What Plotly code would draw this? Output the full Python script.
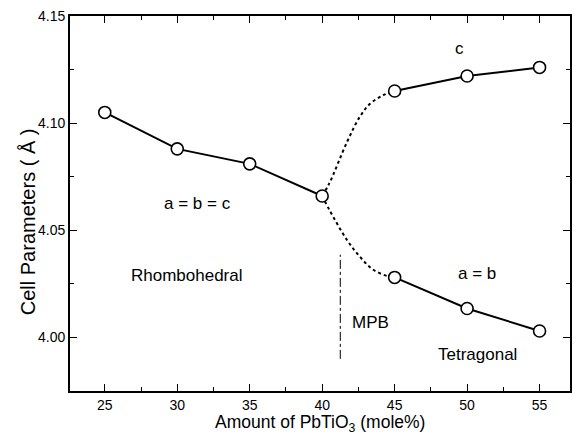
import plotly.graph_objects as go

# Data
x_rhombo = [25, 30, 35, 40]
y_rhombo = [4.105, 4.088, 4.081, 4.066]

x_tet = [45, 50, 55]
c_tet = [4.115, 4.122, 4.126]
a_tet = [4.028, 4.0135, 4.003]

# guide points of the dotted transition curves across the MPB
x_trans_c = [40, 40.5, 41.7, 42.6, 43.3, 44.2, 45]
y_trans_c = [4.066, 4.072, 4.091, 4.103, 4.109, 4.113, 4.115]
x_trans_a = [40, 40.5, 41.7, 42.6, 43.5, 44.6, 45]
y_trans_a = [4.066, 4.0595, 4.0456, 4.0377, 4.0317, 4.0284, 4.028]

mpb_x = [41.25, 41.25]
mpb_y = [3.990, 4.0386]

x_ticks = [25, 30, 35, 40, 45, 50, 55]
y_ticks = [4.00, 4.05, 4.10, 4.15]

labels = [
    ("c", 49.45, 4.135),
    ("a = b = c", 31.4, 4.0623),
    ("Rhombohedral", 30.7, 4.0289),
    ("MPB", 43.3, 4.0071),
    ("a = b", 50.7, 4.0298),
    ("Tetragonal", 50.7, 3.9922),
]

FONT = "Liberation Sans, Arial, sans-serif"

fig = go.Figure()

# dotted transitions
for xs, ys in [(x_trans_c, y_trans_c), (x_trans_a, y_trans_a)]:
    fig.add_trace(go.Scatter(x=xs, y=ys, mode="lines",
                             line=dict(color="black", width=2, dash="dot", shape="spline", smoothing=1.0),
                             hoverinfo="skip", showlegend=False))

# MPB boundary
fig.add_trace(go.Scatter(x=mpb_x, y=mpb_y, mode="lines",
                         line=dict(color="black", width=1, dash="dashdot"),
                         hoverinfo="skip", showlegend=False))

marker = dict(symbol="circle", size=12, color="white", line=dict(color="black", width=1.6))
for xs, ys in [(x_rhombo, y_rhombo), (x_tet, c_tet), (x_tet, a_tet)]:
    fig.add_trace(go.Scatter(x=xs, y=ys, mode="lines+markers",
                             line=dict(color="black", width=2),
                             marker=marker, showlegend=False))

for txt, x, y in labels:
    fig.add_annotation(x=x, y=y, text=txt, showarrow=False,
                       font=dict(family=FONT, size=17, color="black"),
                       xanchor="center", yanchor="middle")

# axis titles
fig.add_annotation(xref="paper", yref="paper", x=0.5, y=-0.05,
                   text="Amount of PbTiO<sub>3</sub> (mole%)", showarrow=False,
                   font=dict(family=FONT, size=17.5, color="black"),
                   xanchor="center", yanchor="top")
fig.add_annotation(xref="paper", yref="paper", x=-0.084, y=0.45,
                   text="Cell Parameters ( Å )", showarrow=False, textangle=-90,
                   font=dict(family=FONT, size=20, color="black"),
                   xanchor="center", yanchor="middle")

axis_common = dict(showline=True, linecolor="black", linewidth=1.8, mirror="allticks",
                   ticks="inside", ticklen=7, tickwidth=1.2, tickcolor="black",
                   showgrid=False, zeroline=False,
                   tickfont=dict(family=FONT, size=14, color="black"))

fig.update_xaxes(range=[22.6, 57.1], tickvals=x_ticks,
                 minor=dict(ticks="inside", ticklen=4, dtick=2.5, tick0=25, tickcolor="black", showgrid=False),
                 **axis_common)
fig.update_yaxes(range=[3.975, 4.15], tickvals=y_ticks, tickformat=".2f",
                 minor=dict(ticks="inside", ticklen=4, dtick=0.025, tick0=4.0, tickcolor="black", showgrid=False),
                 **axis_common)

fig.update_layout(width=580, height=440,
                  margin=dict(l=70, r=8, t=15, b=49),
                  paper_bgcolor="white", plot_bgcolor="white",
                  showlegend=False)

fig.write_html("out.html")
